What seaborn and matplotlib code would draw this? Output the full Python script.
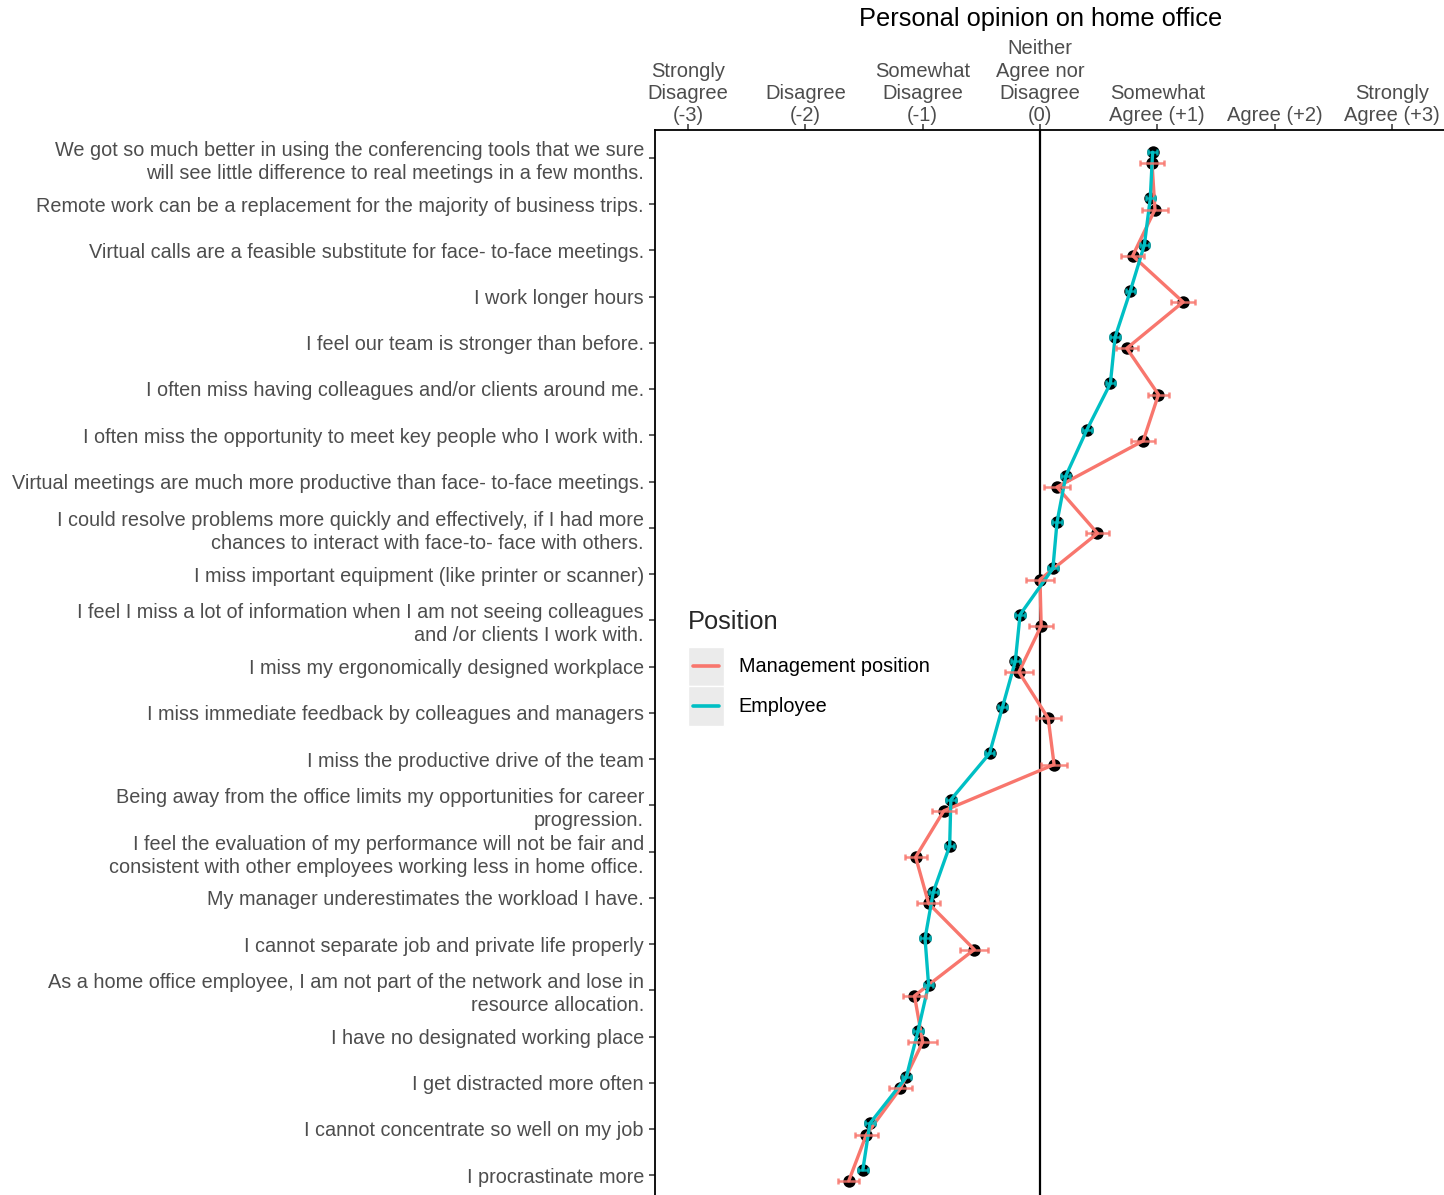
import numpy as np
import pandas as pd
import matplotlib
matplotlib.use("Agg")
import matplotlib.pyplot as plt
from matplotlib.patches import Rectangle
from matplotlib.lines import Line2D
from matplotlib.legend_handler import HandlerLine2D
import seaborn as sns

# Survey statements (top to bottom)
items = [
    "We got so much better in using the conferencing tools that we sure\nwill see little difference to real meetings in a few months.",
    "Remote work can be a replacement for the majority of business trips.",
    "Virtual calls are a feasible substitute for face- to-face meetings.",
    "I work longer hours",
    "I feel our team is stronger than before.",
    "I often miss having colleagues and/or clients around me.",
    "I often miss the opportunity to meet key people who I work with.",
    "Virtual meetings are much more productive than face- to-face meetings.",
    "I could resolve problems more quickly and effectively, if I had more\nchances to interact with face-to- face with others.",
    "I miss important equipment (like printer or scanner)",
    "I feel I miss a lot of information when I am not seeing colleagues\nand /or clients I work with.",
    "I miss my ergonomically designed workplace",
    "I miss immediate feedback by colleagues and managers",
    "I miss the productive drive of the team",
    "Being away from the office limits my opportunities for career\nprogression.",
    "I feel the evaluation of my performance will not be fair and\nconsistent with other employees working less in home office.",
    "My manager underestimates the workload I have.",
    "I cannot separate job and private life properly",
    "As a home office employee, I am not part of the network and lose in\nresource allocation.",
    "I have no designated working place",
    "I get distracted more often",
    "I cannot concentrate so well on my job",
    "I procrastinate more",
]

# Mean agreement scores (-3 .. +3)
employee = [0.96, 0.94, 0.89, 0.77, 0.64, 0.60, 0.40, 0.22, 0.145, 0.11,
            -0.17, -0.21, -0.32, -0.43, -0.76, -0.77, -0.91, -0.98, -0.95,
            -1.04, -1.14, -1.45, -1.51]
management = [0.955, 0.98, 0.79, 1.22, 0.74, 1.01, 0.88, 0.145, 0.49, 0.0,
              0.01, -0.18, 0.07, 0.12, -0.82, -1.06, -0.95, -0.56, -1.07,
              -1.00, -1.19, -1.48, -1.63]

# Half-widths of the error bars
management_err = [0.10, 0.107, 0.10, 0.10, 0.094, 0.09, 0.10, 0.107, 0.10, 0.12,
                  0.10, 0.12, 0.107, 0.11, 0.10, 0.095, 0.10, 0.12, 0.10,
                  0.125, 0.10, 0.10, 0.09]
employee_err = [0.04, 0.04, 0.04, 0.04, 0.04, 0.04, 0.04, 0.04, 0.04, 0.04,
                0.04, 0.04, 0.04, 0.04, 0.04, 0.04, 0.04, 0.04, 0.04,
                0.04, 0.04, 0.04, 0.04]

scale_labels = ["Strongly\nDisagree\n(-3)", "Disagree\n(-2)", "Somewhat\nDisagree\n(-1)",
                "Neither\nAgree nor\nDisagree\n(0)", "Somewhat\nAgree (+1)",
                "Agree (+2)", "Strongly\nAgree (+3)"]
scale_values = [-3, -2, -1, 0, 1, 2, 3]

groups = ["Management position", "Employee"]
palette = {"Management position": "#F8766D", "Employee": "#00BFC4"}

sns.set_theme(style="white")
plt.rcParams["font.family"] = ["Liberation Sans", "DejaVu Sans"]

TXT = "#4D4D4D"
FS = 14.3

# long-format table with a small vertical dodge per group
n = len(items)
rows = np.arange(n)
dodge = {"Management position": 0.12, "Employee": -0.12}
df = pd.concat([
    pd.DataFrame({"row": rows + dodge["Management position"], "score": management,
                  "err": management_err, "Position": "Management position"}),
    pd.DataFrame({"row": rows + dodge["Employee"], "score": employee,
                  "err": employee_err, "Position": "Employee"}),
], ignore_index=True)

W, H = 1444, 1195
fig = plt.figure(figsize=(W / 100, H / 100), dpi=100)
ax = fig.add_axes([655 / W, 1 - 1203 / H, (W - 655) / W, (1203 - 130) / H])

# points underneath, lines and error bars on top
sns.scatterplot(data=df, x="score", y="row", color="black", s=80, linewidth=0,
                ax=ax, zorder=2, legend=False)
sns.lineplot(data=df, x="score", y="row", hue="Position", hue_order=groups,
             palette=palette, orient="y", sort=True, linewidth=2.4, ax=ax,
             zorder=3, legend=False)
for g in groups:
    sub = df[df["Position"] == g]
    ax.errorbar(sub["score"], sub["row"], xerr=sub["err"], fmt="none",
                ecolor=palette[g], elinewidth=1.8, capsize=2.5, capthick=1.8,
                alpha=0.85, zorder=4)

ax.axvline(0, color="black", linewidth=1.6, zorder=1)

ax.set_xlim(-3.282, 3.444)
ax.set_ylim(n - 1 + 0.6, -0.6)

ax.xaxis.tick_top()
ax.set_xticks(scale_values)
ax.set_xticklabels(scale_labels, fontsize=14.5, color=TXT, linespacing=1.22)
ax.set_yticks(rows)
ax.set_yticklabels(items, fontsize=FS, color=TXT, linespacing=1.27)
ax.tick_params(axis="x", which="major", top=True, bottom=False, length=4,
               width=1.1, color="#333333", pad=-0.5)
ax.tick_params(axis="y", which="major", left=True, length=4, width=1.1,
               color="#333333", pad=4)
ax.set_xlabel("")
ax.set_ylabel("")

for side in ["right", "bottom"]:
    ax.spines[side].set_visible(False)
for side in ["top", "left"]:
    ax.spines[side].set_visible(True)
    ax.spines[side].set_color("black")
    ax.spines[side].set_linewidth(1.3)

fig.text(1041 / W, 1 - 19 / H, "Personal opinion on home office", ha="center",
         va="center", fontsize=18.3, color="black")


class KeyHandler(HandlerLine2D):
    """Legend key drawn as a grey tile with a short coloured line."""
    def create_artists(self, legend, orig_handle, xdescent, ydescent, width,
                       height, fontsize, trans):
        bg = Rectangle((-xdescent, -ydescent), width, height,
                       facecolor="#EBEBEB", edgecolor="white", linewidth=1.0,
                       transform=trans)
        yc = -ydescent + height / 2
        ln = Line2D([-xdescent + width * 0.15, -xdescent + width * 0.85], [yc, yc],
                    color=orig_handle.get_color(), linewidth=2.6, transform=trans)
        return [bg, ln]


handles = [Line2D([], [], color=palette[g]) for g in groups]
leg = fig.legend(handles, groups, title="Position", loc="upper left",
                 bbox_to_anchor=(688 / W, 1 - 610 / H), frameon=False,
                 fontsize=FS, title_fontsize=18.3, handlelength=1.81,
                 handleheight=2.72, labelspacing=0.0, handletextpad=0.75,
                 borderpad=0, borderaxespad=0,
                 handler_map={Line2D: KeyHandler()})
leg._legend_box.align = "left"
leg._legend_box.sep = 9
for t in leg.get_texts():
    t.set_color("black")

fig.savefig("out.png", dpi=100, facecolor="white")
